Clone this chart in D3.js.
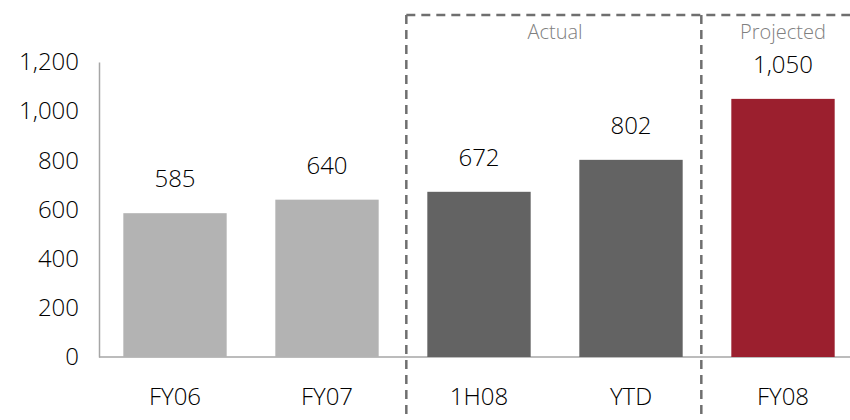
<script src="https://d3js.org/d3.v7.min.js"></script>
<style>
  body { margin: 0; background: #fff; }
  text { font-family: "Open Sans", sans-serif; font-weight: 300; }
</style>
<div class="vis"></div>
<script>
  // chart data
  var categories = ["FY06", "FY07", "1H08", "YTD", "FY08"];
  var values = [585, 640, 672, 802, 1050];
  var groups = ["base", "base", "actual", "actual", "projected"];
  var yTicks = [0, 200, 400, 600, 800, 1000, 1200];

  var width = 850, height = 420;
  var colors = { base: "#b3b3b3", actual: "#636363", projected: "#9b1f2e" };

  var svg = d3.select(".vis").append("svg")
    .attr("width", width)
    .attr("height", height);

  var x = d3.scaleBand()
    .domain(categories)
    .range([99, 859])
    .paddingInner(0.32)
    .paddingOuter(0.16);

  var y = d3.scaleLinear()
    .domain([0, 1200])
    .range([357, 62]);

  var fmt = d3.format(",");

  // y axis
  var yAxis = svg.append("g")
    .attr("transform", "translate(99,0)")
    .call(d3.axisLeft(y).tickValues(yTicks).tickFormat(fmt).tickSize(0).tickPadding(20));
  yAxis.select(".domain").attr("stroke", "#a6a6a6").attr("stroke-width", 1.5);
  yAxis.selectAll("text")
    .attr("font-size", 24)
    .attr("font-family", "'Open Sans', sans-serif")
    .attr("font-weight", 300)
    .attr("fill", "#000");

  // baseline
  svg.append("line")
    .attr("x1", 99).attr("x2", width)
    .attr("y1", y(0)).attr("y2", y(0))
    .attr("stroke", "#a6a6a6").attr("stroke-width", 1.5);

  // bars
  svg.selectAll("rect.bar")
    .data(categories)
    .enter()
    .append("rect")
    .attr("class", "bar")
    .attr("x", d => x(d))
    .attr("width", x.bandwidth())
    .attr("y", (d, i) => y(values[i]))
    .attr("height", (d, i) => y(0) - y(values[i]))
    .attr("fill", (d, i) => colors[groups[i]]);

  // value labels
  svg.selectAll("text.val")
    .data(categories)
    .enter()
    .append("text")
    .attr("class", "val")
    .attr("x", d => x(d) + x.bandwidth() / 2)
    .attr("y", (d, i) => y(values[i]) - 26)
    .attr("text-anchor", "middle")
    .attr("font-size", 24)
    .text((d, i) => fmt(values[i]));

  // category labels
  svg.selectAll("text.cat")
    .data(categories)
    .enter()
    .append("text")
    .attr("class", "cat")
    .attr("x", d => x(d) + x.bandwidth() / 2)
    .attr("y", 405)
    .attr("text-anchor", "middle")
    .attr("font-size", 24)
    .text(d => d);

  // dashed group dividers
  var leftDiv = x("1H08") - 21;
  var rightDiv = x("FY08") - 30;
  var dash = "9,6";
  var lineColor = "#6f6f6f";

  [leftDiv, rightDiv].forEach(function (xx) {
    svg.append("line")
      .attr("x1", xx).attr("x2", xx)
      .attr("y1", 15).attr("y2", height)
      .attr("stroke", lineColor)
      .attr("stroke-width", 2.5)
      .attr("stroke-dasharray", dash);
  });

  svg.append("line")
    .attr("x1", leftDiv).attr("x2", width)
    .attr("y1", 15).attr("y2", 15)
    .attr("stroke", lineColor)
    .attr("stroke-width", 2.5)
    .attr("stroke-dasharray", dash);

  // group titles
  svg.append("text")
    .attr("x", (x("1H08") + x("YTD") + x.bandwidth()) / 2)
    .attr("y", 39)
    .attr("text-anchor", "middle")
    .attr("font-size", 20)
    .attr("fill", "#808080")
    .text("Actual");

  svg.append("text")
    .attr("x", x("FY08") + x.bandwidth() / 2)
    .attr("y", 39)
    .attr("text-anchor", "middle")
    .attr("font-size", 20)
    .attr("fill", "#808080")
    .text("Projected");
</script>
